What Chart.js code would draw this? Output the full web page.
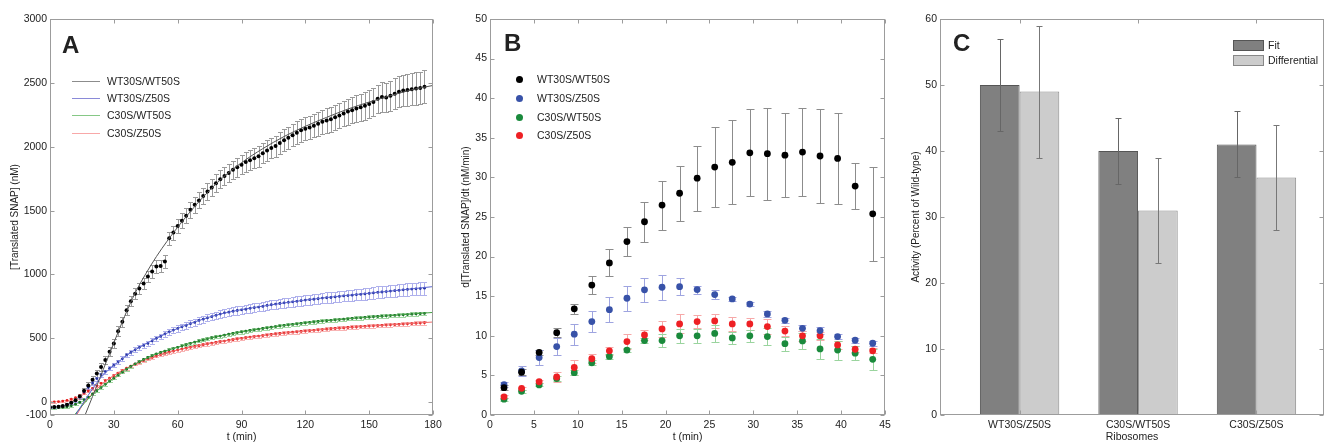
<!DOCTYPE html>
<html>
<head>
<meta charset="utf-8">
<script src="https://cdn.jsdelivr.net/npm/chart.js@4.4.1/dist/chart.umd.min.js"></script>
<style>
  html, body { margin: 0; padding: 0; background: #fff; }
  #wrap { position: relative; width: 1326px; height: 443px; overflow: hidden;
          font-family: "Liberation Sans", Arial, sans-serif; color: #222; }
  #wrap canvas { position: absolute; top: 0; }
  .letter { position: absolute; font-weight: bold; font-size: 24px; line-height: 24px; color: #222; }
  .lt { position: absolute; font-size: 10.5px; line-height: 13px; white-space: nowrap; color: #222; }
  .ln { position: absolute; height: 1px; width: 28px; }
  .dot { position: absolute; width: 7px; height: 7px; border-radius: 50%; }
  .box { position: absolute; width: 31px; height: 11px; box-sizing: border-box; }
</style>
</head>
<body>
<div id="wrap">
  <canvas id="cA" width="460" height="443" style="left:0px"></canvas>
  <canvas id="cB" width="470" height="443" style="left:440px"></canvas>
  <canvas id="cC" width="436" height="443" style="left:890px"></canvas>

  <div class="letter" style="left:62px;top:33px">A</div>
  <div class="letter" style="left:504px;top:31px">B</div>
  <div class="letter" style="left:953px;top:31px">C</div>

  <!-- panel A legend -->
  <div class="ln" style="left:72px;top:81px;background:#8c8c8c"></div>
  <div class="lt" style="left:107px;top:75px">WT30S/WT50S</div>
  <div class="ln" style="left:72px;top:98px;background:#8a8ad8"></div>
  <div class="lt" style="left:107px;top:92px">WT30S/Z50S</div>
  <div class="ln" style="left:72px;top:115px;background:#86c886"></div>
  <div class="lt" style="left:107px;top:109px">C30S/WT50S</div>
  <div class="ln" style="left:72px;top:133px;background:#f8a8a8"></div>
  <div class="lt" style="left:107px;top:127px">C30S/Z50S</div>

  <!-- panel B legend -->
  <div class="dot" style="left:515.5px;top:75.8px;background:#000"></div>
  <div class="lt" style="left:537px;top:73px">WT30S/WT50S</div>
  <div class="dot" style="left:515.5px;top:94.8px;background:#3852a8"></div>
  <div class="lt" style="left:537px;top:92px">WT30S/Z50S</div>
  <div class="dot" style="left:515.5px;top:113.5px;background:#1a8a3c"></div>
  <div class="lt" style="left:537px;top:111px">C30S/WT50S</div>
  <div class="dot" style="left:515.5px;top:132.2px;background:#ee2024"></div>
  <div class="lt" style="left:537px;top:129px">C30S/Z50S</div>

  <!-- panel C legend -->
  <div class="box" style="left:1233px;top:39.5px;background:#808080;border:1px solid #555"></div>
  <div class="lt" style="left:1268px;top:38.5px">Fit</div>
  <div class="box" style="left:1233px;top:54.5px;background:#cccccc;border:1px solid #888"></div>
  <div class="lt" style="left:1268px;top:53.5px">Differential</div>
</div>

<script>
// ---------- Panel A: translated SNAP vs time ----------
const timeA = [0,2,4,6,8,10,12,14,16,18,20,22,24,26,28,30,32,34,36,38,40,42,44,46,48,50,52,54,56,58,60,
  62,64,66,68,70,72,74,76,78,80,82,84,86,88,90,92,94,96,98,100,102,104,106,108,110,112,114,116,118,120,
  122,124,126,128,130,132,134,136,138,140,142,144,146,148,150,152,154,156,158,160,162,164,166,168,170,172,174,176];

const wtwtA = [-40,-38,-35,-30,-20,-5,15,45,90,130,175,
  225,275,330,395,460,555,630,720,790,850,
  890,930,984,1023,1062,1067,1101,1284,1328,1380,
  1420,1459,1506,1545,1580,1615,1650,1680,1715,1745,
  1770,1795,1820,1840,1860,1880,1895,1910,1925,1950,
  1970,1990,2005,2030,2050,2070,2090,2110,2130,2140,
  2150,2165,2180,2195,2205,2215,2230,2245,2260,2275,
  2285,2300,2310,2320,2335,2350,2375,2390,2385,2400,
  2415,2430,2440,2445,2450,2455,2460,2470];
const wtwtErrA = [12,12,12,12,12,14,16,20,25,28,30,
  30,32,32,35,35,38,38,40,40,42,
  42,45,45,48,48,50,50,52,55,55,
  58,58,60,62,62,65,65,68,68,70,
  70,72,72,75,75,75,78,78,80,80,
  80,82,82,85,85,85,88,88,90,90,
  90,92,92,95,95,98,98,100,100,102,
  102,105,105,108,110,110,112,115,115,118,
  120,120,122,125,125,128,128,130];

const wtzA = [-40,-38,-35,-30,-20,-5,15,45,80,115,150,
  185,215,240,265,290,315,340,370,390,410,
  430,445,460,480,500,515,535,550,565,578,
  590,600,615,625,640,650,660,670,680,690,
  700,705,712,718,723,728,735,740,745,750,
  758,763,768,773,778,782,786,790,795,800,
  803,806,810,815,818,820,824,828,832,835,
  838,842,845,848,852,856,860,863,866,870,
  873,876,880,883,886,888,890,893];
const wtzErrA = [8,8,8,8,8,10,10,12,12,14,14,
  15,15,16,16,17,17,18,18,19,20,
  20,21,21,22,22,23,23,24,24,25,
  25,26,26,27,27,28,28,29,29,30,
  30,31,31,32,32,33,33,34,34,35,
  35,35,36,36,37,37,38,38,38,39,
  39,40,40,40,41,41,42,42,42,43,
  43,44,44,44,45,45,46,46,46,47,
  47,48,48,48,49,49,50,50];

const cwtA = [-45,-44,-42,-40,-36,-28,-15,0,20,40,65,
  90,115,140,165,188,212,235,258,280,300,
  318,335,350,365,378,390,400,410,420,430,
  440,450,460,470,480,488,496,505,512,518,
  525,532,538,545,550,556,562,567,572,577,
  582,587,592,597,601,605,609,613,617,621,
  625,628,632,635,638,641,644,647,650,653,
  656,659,661,664,666,669,671,673,676,678,
  680,682,684,686,689,691,693,695];
const cwtErrA = [6,6,6,6,6,7,7,8,8,9,9,
  10,10,10,10,10,10,10,10,10,10,
  11,11,11,11,11,11,11,11,11,11,
  12,12,12,12,12,12,12,12,12,12,
  12,12,12,12,12,12,12,12,12,12,
  13,13,13,13,13,13,13,13,13,13,
  13,13,13,13,13,13,13,13,13,13,
  14,14,14,14,14,14,14,14,14,14,
  14,14,14,14,14,14,14,14];

const czA = [0,2,5,9,15,24,36,52,70,88,108,
  128,148,168,188,208,228,248,266,283,298,
  312,326,339,351,362,373,383,392,400,408,
  416,423,430,437,443,450,456,462,468,474,
  479,485,490,495,500,505,510,514,518,522,
  526,530,534,538,541,545,548,551,554,557,
  560,563,566,569,572,575,577,580,582,585,
  587,589,592,594,596,598,600,602,604,606,
  608,610,612,614,616,618,620,622];
const czErrA = [6,6,6,6,6,7,7,8,8,9,9,
  10,10,10,10,10,10,10,10,10,10,
  11,11,11,11,11,11,11,11,11,11,
  12,12,12,12,12,12,12,12,12,12,
  12,12,12,12,12,12,12,12,12,12,
  13,13,13,13,13,13,13,13,13,13,
  13,13,13,13,13,13,13,13,13,13,
  14,14,14,14,14,14,14,14,14,14,
  14,14,14,14,14,14,14,14];

// fitted curves
const wtwtFitT = [16.5,20,25,30,35,40,45,50,55,60,70,80,90,100,110,120,130,140,150,160,170,180];
const wtwtFitV = [-100,45,255,465,670,855,1005,1140,1260,1370,1570,1740,1875,1985,2080,2160,2230,2295,2350,2400,2445,2480];
const wtzFitT = [12,16,20,24,28,32,36,40,50,60,70,80,90,100,120,140,160,180];
const wtzFitV = [-100,5,105,195,260,315,365,410,500,578,640,690,725,752,800,837,870,905];
const cwtFitT = [11.5,16,20,25,30,35,40,50,60,70,80,90,100,120,140,160,180];
const cwtFitV = [-100,-10,60,130,190,250,300,378,430,480,518,550,577,621,653,678,703];
const czFitT = [12.5,16,20,25,30,35,40,50,60,70,80,90,100,120,140,160,180];
const czFitV = [-100,-5,70,150,210,258,298,362,408,443,474,500,522,557,585,606,628];

const yTicksA = [-100,0,500,1000,1500,2000,2500,3000];
const xTicksA = [0,30,60,90,120,150,180];

// ---------- Panel B: translation rate ----------
const timeB = [1.6,3.6,5.6,7.6,9.6,11.6,13.6,15.6,17.6,19.6,21.6,23.6,25.6,27.6,29.6,31.6,33.6,35.6,37.6,39.6,41.6,43.6];
const wtwtB    = [3.45,5.4,7.9,10.4,13.4,16.4,19.2,21.9,24.4,26.5,28.0,29.9,31.3,31.9,33.1,33.0,32.8,33.2,32.7,32.4,28.9,25.4];
const wtwtErrB = [0.3,0.4,0.3,0.6,0.65,1.1,1.7,1.8,2.5,3.1,3.5,4.1,5.1,5.3,5.5,5.8,5.3,5.6,5.9,5.7,2.9,5.9];
const wtzB     = [3.83,5.56,7.25,8.64,10.2,11.8,13.3,14.74,15.8,16.13,16.2,15.84,15.2,14.66,14.0,12.76,11.96,10.95,10.66,9.9,9.44,9.06];
const wtzErrB  = [0.3,0.65,0.9,1.1,1.3,1.3,1.6,1.6,1.5,1.6,1.05,0.5,0.55,0.3,0.3,0.4,0.3,0.4,0.4,0.3,0.3,0.3];
const cwtB     = [2.0,3.0,3.8,4.6,5.35,6.6,7.4,8.2,9.4,9.4,10.0,10.0,10.3,9.73,10.0,9.9,9.0,9.35,8.34,8.2,7.8,7.03];
const cwtErrB  = [0.2,0.2,0.2,0.3,0.3,0.3,0.3,0.3,0.3,0.85,0.9,0.85,1.05,0.8,0.75,1.1,0.9,1.05,1.3,1.2,0.9,1.3];
const czB      = [2.3,3.37,4.2,4.8,6.0,7.1,8.1,9.27,10.1,10.87,11.5,11.8,11.88,11.5,11.5,11.16,10.6,10.0,10.0,8.85,8.3,8.1];
const czErrB   = [0.2,0.2,0.2,0.6,1.0,0.55,0.5,0.9,0.6,1.05,1.2,0.85,0.9,0.9,0.8,0.9,0.6,0.6,0.5,0.5,0.4,0.3];

// ---------- Panel C: relative activity ----------
const ribosomesC = ['WT30S/Z50S','C30S/WT50S','C30S/Z50S'];
const fitC = [50,40,41];
const fitErrC = [7,5,5];
const diffC = [49,31,36];
const diffErrC = [10,8,8];

// ---------- shared look ----------
Chart.defaults.font.family = '"Liberation Sans", Arial, sans-serif';
Chart.defaults.font.size = 10.5;
Chart.defaults.color = '#222';

const FONT = { family: '"Liberation Sans", Arial, sans-serif', size: 10.5 };

// box frame with inward tick marks on all four sides
const frameTicks = {
  id: 'frameTicks',
  afterDraw(chart) {
    const { ctx, chartArea: a, scales: { x, y } } = chart;
    ctx.save();
    ctx.strokeStyle = '#9c9c9c';
    ctx.lineWidth = 1;
    const L = Math.round(a.left) + 0.5, R = Math.round(a.right) - 0.5;
    const T = Math.round(a.top) + 0.5, B = Math.round(a.bottom) - 0.5;
    ctx.strokeRect(L, T, R - L, B - T);
    const len = 4;
    ctx.beginPath();
    x.ticks.forEach(t => {
      const px = Math.round(x.getPixelForValue(t.value)) + 0.5;
      ctx.moveTo(px, B); ctx.lineTo(px, B - len);
      ctx.moveTo(px, T); ctx.lineTo(px, T + len);
    });
    y.ticks.forEach(t => {
      const py = Math.round(y.getPixelForValue(t.value)) + 0.5;
      ctx.moveTo(L, py); ctx.lineTo(L + len, py);
      ctx.moveTo(R, py); ctx.lineTo(R - len, py);
    });
    ctx.stroke();
    ctx.restore();
  }
};

// vertical error bars with caps, read from each dataset's "errors" array
function paintErrors(chart, onTop) {
  const { ctx, chartArea: a } = chart;
  chart.data.datasets.forEach((ds, i) => {
    if (!ds.errors || !!ds.errorsOnTop !== onTop) return;
    const meta = chart.getDatasetMeta(i);
    const ys = chart.scales[meta.yAxisID];
    ctx.save();
    ctx.beginPath();
    ctx.rect(a.left, a.top - 1, a.right - a.left, a.bottom - a.top + 2);
    ctx.clip();
    ctx.strokeStyle = ds.errorColor;
    ctx.lineWidth = 1;
    const cap = ds.capHalf || 3;
    ctx.beginPath();
    meta.data.forEach((el, j) => {
      const raw = ds.data[j];
      const v = typeof raw === 'object' ? raw.y : raw;
      const e = ds.errors[j];
      const px = Math.round(el.x) + 0.5;
      const y1 = Math.round(ys.getPixelForValue(v + e)) + 0.5;
      const y2 = Math.round(ys.getPixelForValue(v - e)) + 0.5;
      ctx.moveTo(px, y1); ctx.lineTo(px, y2);
      ctx.moveTo(px - cap, y1); ctx.lineTo(px + cap, y1);
      ctx.moveTo(px - cap, y2); ctx.lineTo(px + cap, y2);
    });
    ctx.stroke();
    ctx.restore();
  });
}
const errorBars = {
  id: 'errorBars',
  beforeDatasetsDraw(chart) { paintErrors(chart, false); },
  afterDatasetsDraw(chart) { paintErrors(chart, true); }
};

function pts(xs, ys) { return xs.map((x, i) => ({ x, y: ys[i] })); }

function axisY(min, max, opts) {
  return Object.assign({
    type: 'linear', position: 'left', min, max,
    grid: { display: false, drawTicks: false },
    border: { display: false },
    ticks: { padding: 3, font: FONT, color: '#222', callback: v => String(v) },
    afterFit: s => { s.width = 50; }
  }, opts);
}
function axisX(min, max, opts) {
  return Object.assign({
    type: 'linear', position: 'bottom', min, max,
    grid: { display: false, drawTicks: false },
    border: { display: false },
    ticks: { padding: 4, font: FONT, color: '#222', maxRotation: 0, minRotation: 0, autoSkip: false,
             callback: v => String(v) },
    afterFit: s => { s.height = 28; }
  }, opts);
}

const base = {
  responsive: false,
  animation: false,
  events: [],
  plugins: { legend: { display: false }, tooltip: { enabled: false } }
};

// ---------- chart A ----------
function dotSet(label, data, err, color, errColor, r, cap) {
  return { type: 'scatter', label, data, errors: err, errorColor: errColor, capHalf: cap,
           showLine: false, pointRadius: r, pointBackgroundColor: color, pointBorderWidth: 0,
           borderColor: color, backgroundColor: color };
}
function fitSet(label, data, color) {
  return { type: 'line', label, data, borderColor: color, borderWidth: 1, pointRadius: 0,
           fill: false, cubicInterpolationMode: 'monotone' };
}

new Chart(document.getElementById('cA'), {
  type: 'scatter',
  data: {
    datasets: [
      fitSet('WT30S/WT50S fit', pts(wtwtFitT, wtwtFitV), '#555555'),
      dotSet('WT30S/WT50S', pts(timeA, wtwtA), wtwtErrA, '#000000', '#9a9a9a', 2, 2.5),
      fitSet('WT30S/Z50S fit', pts(wtzFitT, wtzFitV), '#5a64d0'),
      dotSet('WT30S/Z50S', pts(timeA, wtzA), wtzErrA, '#2432a0', '#aeb0ec', 1.4, 2.5),
      fitSet('C30S/WT50S fit', pts(cwtFitT, cwtFitV), '#44a044'),
      dotSet('C30S/WT50S', pts(timeA, cwtA), cwtErrA, '#136a26', '#a2d8a2', 1.4, 2.5),
      fitSet('C30S/Z50S fit', pts(czFitT, czFitV), '#f06a6a'),
      dotSet('C30S/Z50S', pts(timeA, czA), czErrA, '#e41e1e', '#f8b4b4', 1.4, 2.5)
    ]
  },
  options: Object.assign({}, base, {
    layout: { padding: { top: 19, right: 27, bottom: 0, left: 0 } },
    scales: {
      x: axisX(0, 180, {
        afterBuildTicks: s => { s.ticks = xTicksA.map(v => ({ value: v })); },
        title: { display: true, text: 't (min)', font: FONT, color: '#222', padding: { top: 0, bottom: 0 } }
      }),
      y: axisY(-100, 3000, {
        afterBuildTicks: s => { s.ticks = yTicksA.map(v => ({ value: v })); },
        title: { display: true, text: '[Translated SNAP] (nM)', font: { family: FONT.family, size: 10 }, color: '#222',
                 padding: { top: 9, bottom: 0 } }
      })
    }
  }),
  plugins: [errorBars, frameTicks]
});

// ---------- chart B ----------
new Chart(document.getElementById('cB'), {
  type: 'scatter',
  data: {
    datasets: [
      dotSet('WT30S/WT50S', pts(timeB, wtwtB), wtwtErrB, '#000000', '#8c8c8c', 3.4, 4),
      dotSet('WT30S/Z50S', pts(timeB, wtzB), wtzErrB, '#3852a8', '#9ea4e0', 3.4, 4),
      dotSet('C30S/Z50S', pts(timeB, czB), czErrB, '#ee2024', '#f6a8a8', 3.4, 4),
      dotSet('C30S/WT50S', pts(timeB, cwtB), cwtErrB, '#1a8a3c', '#9ad49e', 3.4, 4)
    ]
  },
  options: Object.assign({}, base, {
    layout: { padding: { top: 19, right: 25, bottom: 0, left: 0 } },
    scales: {
      x: axisX(0, 45, {
        ticks: { padding: 4, font: FONT, color: '#222', stepSize: 5, maxRotation: 0, minRotation: 0,
                 autoSkip: false, callback: v => String(v) },
        title: { display: true, text: 't (min)', font: FONT, color: '#222', padding: { top: 0, bottom: 0 } }
      }),
      y: axisY(0, 50, {
        ticks: { padding: 3, font: FONT, color: '#222', stepSize: 5, callback: v => String(v) },
        title: { display: true, text: 'd[Translated SNAP]/dt (nM/min)', font: { family: FONT.family, size: 10 },
                 color: '#222', padding: { top: 20.5, bottom: 0 } }
      })
    }
  }),
  plugins: [errorBars, frameTicks]
});

// ---------- chart C ----------
new Chart(document.getElementById('cC'), {
  type: 'bar',
  data: {
    datasets: [
      { label: 'Fit', data: pts([1, 2, 3], fitC), errors: fitErrC, errorsOnTop: true, errorColor: '#666666',
        capHalf: 3, backgroundColor: '#808080', borderColor: '#555555', borderWidth: 1,
        categoryPercentage: 0.67, barPercentage: 1 },
      { label: 'Differential', data: pts([1, 2, 3], diffC), errors: diffErrC, errorsOnTop: true, errorColor: '#777777',
        capHalf: 3, backgroundColor: '#cccccc', borderColor: '#8a8a8a', borderWidth: 1,
        categoryPercentage: 0.67, barPercentage: 1 }
    ]
  },
  options: Object.assign({}, base, {
    layout: { padding: { top: 19, right: 2, bottom: 0, left: 0 } },
    scales: {
      x: axisX(0.328, 3.57, {
        offset: false,
        afterBuildTicks: s => { s.ticks = ribosomesC.map((c, i) => ({ value: i + 1 })); },
        ticks: { padding: 4, font: FONT, color: '#222', maxRotation: 0, minRotation: 0, autoSkip: false,
                 callback: v => ribosomesC[Math.round(v) - 1] },
        title: { display: true, text: 'Ribosomes', font: FONT, color: '#222', padding: { top: 0, bottom: 0 } }
      }),
      y: axisY(0, 60, {
        ticks: { padding: 3, font: FONT, color: '#222', stepSize: 10, callback: v => String(v) },
        title: { display: true, text: 'Activity (Percent of Wild-type)', font: { family: FONT.family, size: 10 },
                 color: '#222', padding: { top: 20, bottom: 0 } }
      })
    }
  }),
  plugins: [errorBars, frameTicks]
});
</script>
</body>
</html>
